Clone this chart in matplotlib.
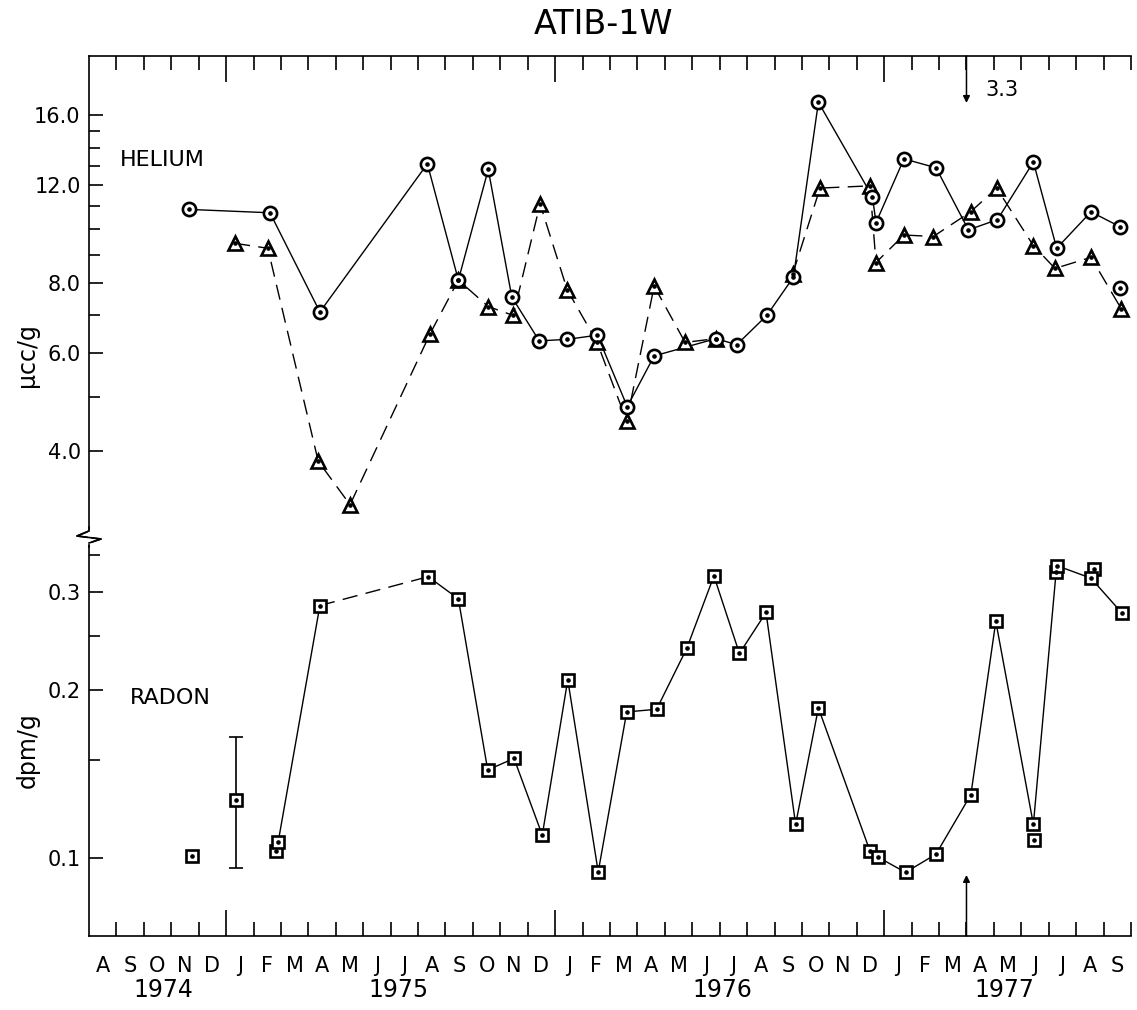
import matplotlib
matplotlib.use('Agg')
import matplotlib.pyplot as plt
import numpy as np
from matplotlib.ticker import FixedLocator, NullFormatter, FixedFormatter
from matplotlib.lines import Line2D
import matplotlib.transforms as mtransforms

# ---------------- data (x = months since 1 Aug 1974) ----------------
months = list("ASONDJFMAMJJASONDJFMAMJJASONDJFMAMJJAS")
years = ['1974', '1975', '1976', '1977']
year_pos = [2.7, 11.3, 23.1, 33.4]

he_circ_x = [3.64, 6.60, 8.42, 12.34, 13.47, 14.56, 15.42, 16.42, 17.44, 18.54,
             19.63, 20.61, 22.87, 23.62, 24.72, 25.69, 26.60, 28.57, 28.70, 29.72,
             30.89, 32.07, 33.13, 34.44, 35.29, 36.54, 37.60]
he_circ_y = [10.85, 10.7, 7.1, 13.1, 8.1, 12.8, 7.55, 6.3, 6.34, 6.45,
             4.8, 5.92, 6.36, 6.2, 7.0, 8.2, 16.9, 11.44, 10.27, 13.37,
             12.89, 9.97, 10.4, 13.2, 9.24, 10.74, 10.1]
he_circ_extra_x = [37.60]
he_circ_extra_y = [7.85]

he_tri_x = [5.32, 6.52, 8.36, 9.52, 12.44, 13.47, 14.56, 15.47, 16.45, 17.44,
            18.52, 19.61, 20.61, 21.74, 22.87, np.nan, 25.66, 26.66, 28.48, 28.70,
            29.72, 30.79, 32.15, 33.10, 34.44, 35.23, 36.54, 37.64]
he_tri_y = [9.43, 9.24, 3.83, 3.2, 6.49, 8.1, 7.26, 7.0, 11.1, 7.78,
            6.28, 4.52, 7.9, 6.26, 6.36, np.nan, 8.3, 11.85, 11.96, 8.71,
            9.76, 9.7, 10.74, 11.85, 9.34, 8.5, 8.9, 7.2]

rn_x = [6.90, 8.42, 12.37, 13.47, 14.54, 15.50, 16.53, 17.46, 18.57, 19.61,
        20.70, 21.80, 22.79, 23.72, 24.69, 25.77, 26.60, 28.48, 28.76, 29.78,
        30.89, 32.16, 33.07, 34.44, 35.29, 36.54, 37.68]
rn_y = [0.107, 0.284, 0.320, 0.292, 0.144, 0.151, 0.110, 0.209, 0.0945, 0.183,
        0.185, 0.238, 0.321, 0.233, 0.276, 0.115, 0.186, 0.103, 0.1005, 0.0943,
        0.1017, 0.130, 0.266, 0.115, 0.335, 0.318, 0.275]
rn_iso_x = [3.75, 5.35]
rn_iso_y = [0.101, 0.127]
rn_err_lo = [0.0, 0.096]
rn_err_hi = [0.0, 0.165]
rn_extra_x = [6.82, 34.46, 35.26, 36.66]
rn_extra_y = [0.103, 0.108, 0.326, 0.330]

quake_x = 32.0
quake_label = '3.3'

he_ticks = [4, 6, 8, 12, 16]
he_ticklabels = ['4.0', '6.0', '8.0', '12.0', '16.0']
he_minor = [5, 7, 9, 10, 11, 13, 14, 15]
rn_ticks = [0.1, 0.2, 0.3]
rn_ticklabels = ['0.1', '0.2', '0.3']
rn_minor = [0.15, 0.25, 0.35]

# ---------------- layout ----------------
W, H = 1137, 1010
def fx(x): return x / W
def fy(y): return 1 - y / H

LEFT, RIGHT, TOP, BRK, BOT = 89, 1131, 56, 537, 936

fig = plt.figure(figsize=(W / 100, H / 100), dpi=100)
ax1 = fig.add_axes([fx(LEFT), fy(BRK), fx(RIGHT) - fx(LEFT), (BRK - TOP) / H])
ax2 = fig.add_axes([fx(LEFT), fy(BOT), fx(RIGHT) - fx(LEFT), (BOT - BRK) / H])

for ax in (ax1, ax2):
    ax.set_xlim(0, 38)
    ax.set_yscale('log')
    ax.spines['right'].set_visible(False)
    for s in ax.spines.values():
        s.set_linewidth(1.2)
ax1.spines['bottom'].set_visible(False)
ax2.spines['top'].set_visible(False)

ax1.set_ylim(2.80, 20.46)
ax2.set_ylim(0.0725, 0.377)

LW = 1.0
DASH = (0, (11, 6))

def marks(ax, x, y, marker, ms):
    ax.plot(x, y, ls='none', marker=marker, ms=ms, mfc='white', mec='black',
            mew=1.9, zorder=3)
    ax.plot(x, y, ls='none', marker='o', ms=2.3, mfc='black', mec='black', zorder=4)

# helium
ax1.plot(he_circ_x, he_circ_y, '-', color='black', lw=LW, zorder=2)
ax1.plot(he_tri_x, he_tri_y, color='black', lw=LW, ls=DASH, zorder=2)
marks(ax1, he_tri_x, he_tri_y, '^', 10)
marks(ax1, he_circ_x, he_circ_y, 'o', 9.5)
marks(ax1, he_circ_extra_x, he_circ_extra_y, 'o', 9.5)

# radon
ax2.plot(rn_x[:2], rn_y[:2], '-', color='black', lw=LW, zorder=2)
ax2.plot(rn_x[1:3], rn_y[1:3], color='black', lw=LW, ls=DASH, zorder=2)
ax2.plot(rn_x[2:], rn_y[2:], '-', color='black', lw=LW, zorder=2)
ax2.errorbar([rn_iso_x[1]], [rn_iso_y[1]],
             yerr=[[rn_iso_y[1] - rn_err_lo[1]], [rn_err_hi[1] - rn_iso_y[1]]],
             fmt='none', ecolor='black', elinewidth=1.2, capsize=5, capthick=1.2, zorder=2)
marks(ax2, rn_extra_x, rn_extra_y, 's', 8.5)
marks(ax2, rn_iso_x, rn_iso_y, 's', 8.5)
marks(ax2, rn_x, rn_y, 's', 8.5)

# y ticks
ax1.yaxis.set_major_locator(FixedLocator(he_ticks))
ax1.yaxis.set_major_formatter(FixedFormatter(he_ticklabels))
ax1.yaxis.set_minor_locator(FixedLocator(he_minor))
ax1.yaxis.set_minor_formatter(NullFormatter())
ax2.yaxis.set_major_locator(FixedLocator(rn_ticks))
ax2.yaxis.set_major_formatter(FixedFormatter(rn_ticklabels))
ax2.yaxis.set_minor_locator(FixedLocator(rn_minor))
ax2.yaxis.set_minor_formatter(NullFormatter())
for ax in (ax1, ax2):
    ax.tick_params(axis='y', which='major', direction='in', length=10, width=1.2,
                   labelsize=15, pad=6)
    ax.tick_params(axis='y', which='minor', direction='in', length=8, width=1.2)

# x ticks
year_bounds = [5, 17, 29]
month_bounds = [m for m in range(1, 39) if m not in year_bounds]
for ax, top in ((ax1, True), (ax2, False)):
    ax.xaxis.set_major_locator(FixedLocator(year_bounds))
    ax.xaxis.set_minor_locator(FixedLocator(month_bounds))
    ax.xaxis.set_major_formatter(NullFormatter())
    ax.xaxis.set_minor_formatter(NullFormatter())
    ax.tick_params(axis='x', which='major', direction='in', length=19, width=1.2,
                   top=top, bottom=not top)
    ax.tick_params(axis='x', which='minor', direction='in', length=10, width=1.2,
                   top=top, bottom=not top)

# month and year labels
trans = mtransforms.blended_transform_factory(ax2.transData, fig.transFigure)
for i, m in enumerate(months):
    fig.text(i + 0.5, fy(966), m, transform=trans, ha='center', va='center', fontsize=15)
for yr, p in zip(years, year_pos):
    fig.text(p, fy(990), yr, transform=trans, ha='center', va='center', fontsize=17)

# earthquake arrows
ax1.annotate('', xy=(quake_x, 16.85), xytext=(quake_x, ax1.get_ylim()[1]),
             arrowprops=dict(arrowstyle='-|>', color='black', lw=1.1, mutation_scale=10,
                             shrinkA=0, shrinkB=0))
ax1.text(quake_x + 0.7, 17.8, quake_label, fontsize=15, ha='left', va='center')
ax2.annotate('', xy=(quake_x, 0.0933), xytext=(quake_x, ax2.get_ylim()[0]),
             arrowprops=dict(arrowstyle='-|>', color='black', lw=1.1, mutation_scale=10,
                             shrinkA=0, shrinkB=0))

# panel labels
fig.text(fx(120), fy(160), 'HELIUM', fontsize=16, ha='left', va='center')
fig.text(fx(130), fy(698), 'RADON', fontsize=16, ha='left', va='center')
fig.text(fx(27), fy(355), 'μcc/g', fontsize=17, rotation=90, ha='center', va='center')
fig.text(fx(28), fy(750), 'dpm/g', fontsize=17, rotation=90, ha='center', va='center')
fig.text(fx(603), fy(24), 'ATIB-1W', fontsize=24, ha='center', va='center')

# axis break mark
zx = [LEFT, LEFT, LEFT - 12, LEFT + 12, LEFT, LEFT]
zy = [BRK - 10, BRK - 6, BRK - 1, BRK + 2, BRK + 6, BRK + 10]
fig.add_artist(Line2D([fx(v) for v in zx], [fy(v) for v in zy], color='black', lw=1.2,
                      transform=fig.transFigure))
fig.add_artist(Line2D([fx(LEFT), fx(LEFT)], [fy(BRK - 5), fy(BRK + 5)], color='white',
                      lw=2.5, transform=fig.transFigure, zorder=5))
fig.add_artist(Line2D([fx(v) for v in zx[1:5]], [fy(v) for v in zy[1:5]], color='black',
                      lw=1.2, transform=fig.transFigure, zorder=6))

fig.savefig('out.png', dpi=100, facecolor='white')
